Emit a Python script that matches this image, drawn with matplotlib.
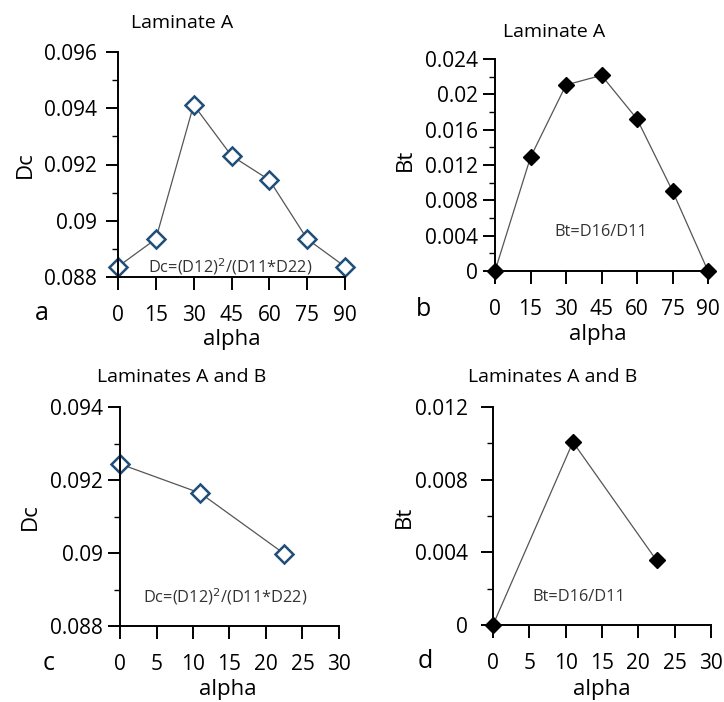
import matplotlib.pyplot as plt
from matplotlib.ticker import MultipleLocator

plt.rcParams['font.family'] = ['Open Sans', 'DejaVu Sans']

# laminate A, ply angle sweep
alpha_a = [0, 15, 30, 45, 60, 75, 90]
dc_a = [0.08837, 0.08935, 0.09412, 0.09231, 0.09145, 0.08935, 0.08837]
bt_a = [0.0, 0.01287, 0.02106, 0.02215, 0.01721, 0.00906, 0.0]

# laminates A and B
alpha_ab = [0, 11, 22.5]
dc_ab = [0.09244, 0.09164, 0.08998]
bt_ab = [0.0, 0.01007, 0.00356]

# tick values and their labels
dc_a_ticks = [0.088, 0.090, 0.092, 0.094, 0.096]
dc_a_labels = ['0.088', '0.09', '0.092', '0.094', '0.096']
bt_a_ticks = [0, 0.004, 0.008, 0.012, 0.016, 0.020, 0.024]
bt_a_labels = ['0', '0.004', '0.008', '0.012', '0.016', '0.02', '0.024']
dc_ab_ticks = [0.088, 0.090, 0.092, 0.094]
dc_ab_labels = ['0.088', '0.09', '0.092', '0.094']
bt_ab_ticks = [0, 0.004, 0.008, 0.012]
bt_ab_labels = ['0', '0.004', '0.008', '0.012']
alpha_ab_ticks = [0, 5, 10, 15, 20, 25, 30]

W, H = 724, 702
fig = plt.figure(figsize=(W / 100, H / 100), dpi=100)


def px_axes(left, right, top, bottom):
    return fig.add_axes([left / W, 1 - bottom / H, (right - left) / W, (bottom - top) / H])


def px_text(x, y, s, **kw):
    fig.text(x / W, 1 - y / H, s, ha='center', va='center', **kw)


def style(ax, minor, ypad):
    for side in ('top', 'right'):
        ax.spines[side].set_visible(False)
    for side in ('left', 'bottom'):
        ax.spines[side].set_linewidth(1.4)
    ax.yaxis.set_minor_locator(MultipleLocator(minor))
    ax.tick_params(which='major', direction='out', length=9, width=1.4, labelsize=15)
    ax.tick_params(which='minor', direction='out', length=4.5, width=1.0)
    ax.tick_params(axis='x', pad=11)
    ax.tick_params(axis='y', pad=ypad)


blue = '#1f4e79'
line_kw = dict(color='#555555', lw=0.9, clip_on=False)
open_kw = dict(marker='D', ms=9, mfc='white', mec=blue, mew=1.8)
solid_kw = dict(marker='D', ms=8, mfc='black', mec='black')
note_kw = dict(fontsize=11.8, color='#333333')

# a
ax = px_axes(118, 345, 52, 277)
ax.plot(alpha_a, dc_a, **line_kw, **open_kw)
ax.set_xlim(0, 90)
ax.set_ylim(0.088, 0.096)
ax.set_xticks(alpha_a)
ax.set_yticks(dc_a_ticks, dc_a_labels)
style(ax, 0.001, 6)
px_text(230, 267, r'Dc=(D12)$^2$/(D11*D22)', **note_kw)

# b
ax = px_axes(495, 708, 59, 271)
ax.plot(alpha_a, bt_a, **line_kw, **solid_kw)
ax.set_xlim(0, 90)
ax.set_ylim(0, 0.024)
ax.set_xticks(alpha_a)
ax.set_yticks(bt_a_ticks, bt_a_labels)
style(ax, 0.002, 3)
px_text(601, 232, 'Bt=D16/D11', **note_kw)

# c
ax = px_axes(120, 339, 407, 626)
ax.plot(alpha_ab, dc_ab, **line_kw, **open_kw)
ax.set_xlim(0, 30)
ax.set_ylim(0.088, 0.094)
ax.set_xticks(alpha_ab_ticks)
ax.set_yticks(dc_ab_ticks, dc_ab_labels)
style(ax, 0.001, 3)
px_text(225, 597, r'Dc=(D12)$^2$/(D11*D22)', **note_kw)

# d
ax = px_axes(493, 711, 407, 625)
ax.plot(alpha_ab, bt_ab, **line_kw, **solid_kw)
ax.set_xlim(0, 30)
ax.set_ylim(0, 0.012)
ax.set_xticks(alpha_ab_ticks)
ax.set_yticks(bt_ab_ticks, bt_ab_labels)
style(ax, 0.002, 9)
px_text(579, 597, 'Bt=D16/D11', **note_kw)

# titles, axis labels and panel letters
px_text(182, 23, 'Laminate A', fontsize=14)
px_text(554, 32, 'Laminate A', fontsize=14)
px_text(182, 377, 'Laminates A and B', fontsize=14)
px_text(553, 377, 'Laminates A and B', fontsize=14)

for x, y in [(232, 340), (598, 335), (228, 690), (602, 690)]:
    px_text(x, y, 'alpha', fontsize=16)
for x, y, s in [(25, 165, 'Dc'), (405, 160, 'Bt'), (30, 517, 'Dc'), (404, 517, 'Bt')]:
    px_text(x, y, s, fontsize=16, rotation=90)
for x, y, s in [(42, 313, 'a'), (424, 310, 'b'), (49, 663, 'c'), (425, 662, 'd')]:
    px_text(x, y, s, fontsize=18)

fig.savefig('out.png', dpi=100)
